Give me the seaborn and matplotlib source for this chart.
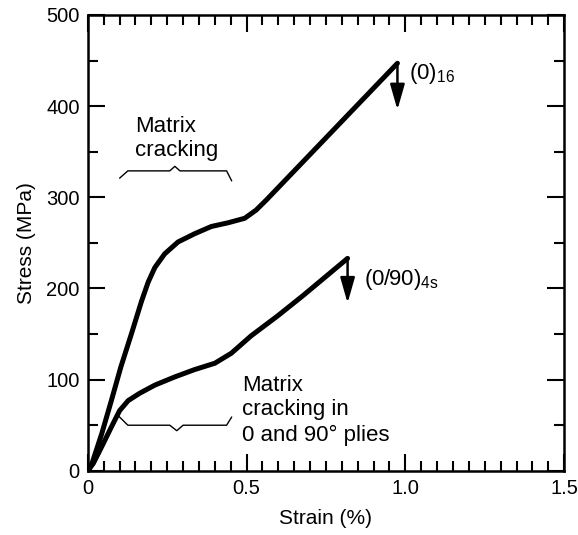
import numpy as np
import pandas as pd
import seaborn as sns
import matplotlib.pyplot as plt
from matplotlib.ticker import MultipleLocator

# (0)16 laminate
strain_0 = [0.0, 0.013, 0.044, 0.074, 0.104, 0.137, 0.169, 0.19, 0.211, 0.242, 0.284,
            0.336, 0.389, 0.441, 0.494, 0.53, 0.562, 0.975]
stress_0 = [0, 8, 41, 77, 114, 150, 186, 207, 223, 238, 251,
            260, 268, 272, 277, 286, 297, 447]

# (0/90)4s laminate
strain_090 = [0.0, 0.017, 0.043, 0.074, 0.1, 0.127, 0.163, 0.211, 0.274, 0.336, 0.4,
              0.452, 0.514, 0.598, 0.677, 0.818]
stress_090 = [0, 8, 26, 48, 66, 77, 85, 94, 103, 111, 118,
              129, 148, 170, 192, 233]

# failure arrows (strain, from stress, to stress)
arrow_0 = (0.975, 447, 396)
arrow_090 = (0.818, 233, 184)

# braces for the annotations
brace_top_x = [0.1, 0.126, 0.258, 0.274, 0.29, 0.437, 0.453]
brace_top_y = [321, 329, 329, 334, 329, 329, 318]
brace_bot_x = [0.094, 0.126, 0.258, 0.28, 0.30, 0.437, 0.453]
brace_bot_y = [61, 50, 50, 44, 50, 50, 59]

x_ticks = [0, 0.5, 1.0, 1.5]
x_labels = ["0", "0.5", "1.0", "1.5"]

df = pd.concat([
    pd.DataFrame({"strain": strain_0, "stress": stress_0, "laminate": "0"}),
    pd.DataFrame({"strain": strain_090, "stress": stress_090, "laminate": "0/90"}),
])

sns.set_theme(style="ticks", rc={"text.color": "black", "axes.labelcolor": "black"})
plt.rcParams["font.family"] = ["Liberation Sans", "DejaVu Sans"]

fig = plt.figure(figsize=(5.78, 5.35), dpi=100)
ax = fig.add_axes([0.152, 0.12, 0.824, 0.852])

sns.lineplot(data=df, x="strain", y="stress", units="laminate", estimator=None,
             color="black", linewidth=3.6, sort=False, ax=ax,
             solid_joinstyle="round", solid_capstyle="round")

for xs, top, bottom in [arrow_0, arrow_090]:
    ax.annotate("", xy=(xs, bottom), xytext=(xs, top),
                arrowprops=dict(arrowstyle="-|>,head_width=0.2,head_length=0.7",
                                color="black", lw=1.8, mutation_scale=22,
                                shrinkA=0, shrinkB=0))

ax.plot(brace_top_x, brace_top_y, color="black", lw=1.0)
ax.plot(brace_bot_x, brace_bot_y, color="black", lw=1.0)

fs = 16
ax.text(0.148, 372, "Matrix", fontsize=fs, va="baseline")
ax.text(0.148, 345, "cracking", fontsize=fs, va="baseline")
ax.text(0.487, 88, "Matrix", fontsize=fs, va="baseline")
ax.text(0.487, 61, "cracking in", fontsize=fs, va="baseline")
ax.text(0.487, 33, "0 and 90\u00b0 plies", fontsize=fs, va="baseline")
ax.text(1.013, 436, r"(0)$_{\mathregular{16}}$", fontsize=fs, va="center")
ax.text(0.871, 210, r"(0/90)$_{\mathregular{4s}}$", fontsize=fs, va="center")

ax.set_xlim(0, 1.5)
ax.set_ylim(0, 500)
ax.set_xticks(x_ticks, x_labels)
ax.xaxis.set_minor_locator(MultipleLocator(0.05))
ax.yaxis.set_major_locator(MultipleLocator(100))
ax.yaxis.set_minor_locator(MultipleLocator(50))
ax.tick_params(which="both", direction="in", top=True, right=True,
               width=1.5, labelsize=14.5, pad=6, colors="black")
ax.tick_params(which="major", length=12)
ax.tick_params(which="minor", length=7)
for s in ax.spines.values():
    s.set_linewidth(1.8)
    s.set_color("black")

ax.set_xlabel("Strain (%)", fontsize=15, labelpad=8)
ax.set_ylabel("Stress (MPa)", fontsize=15, labelpad=7)

fig.savefig("out.png", dpi=100)
